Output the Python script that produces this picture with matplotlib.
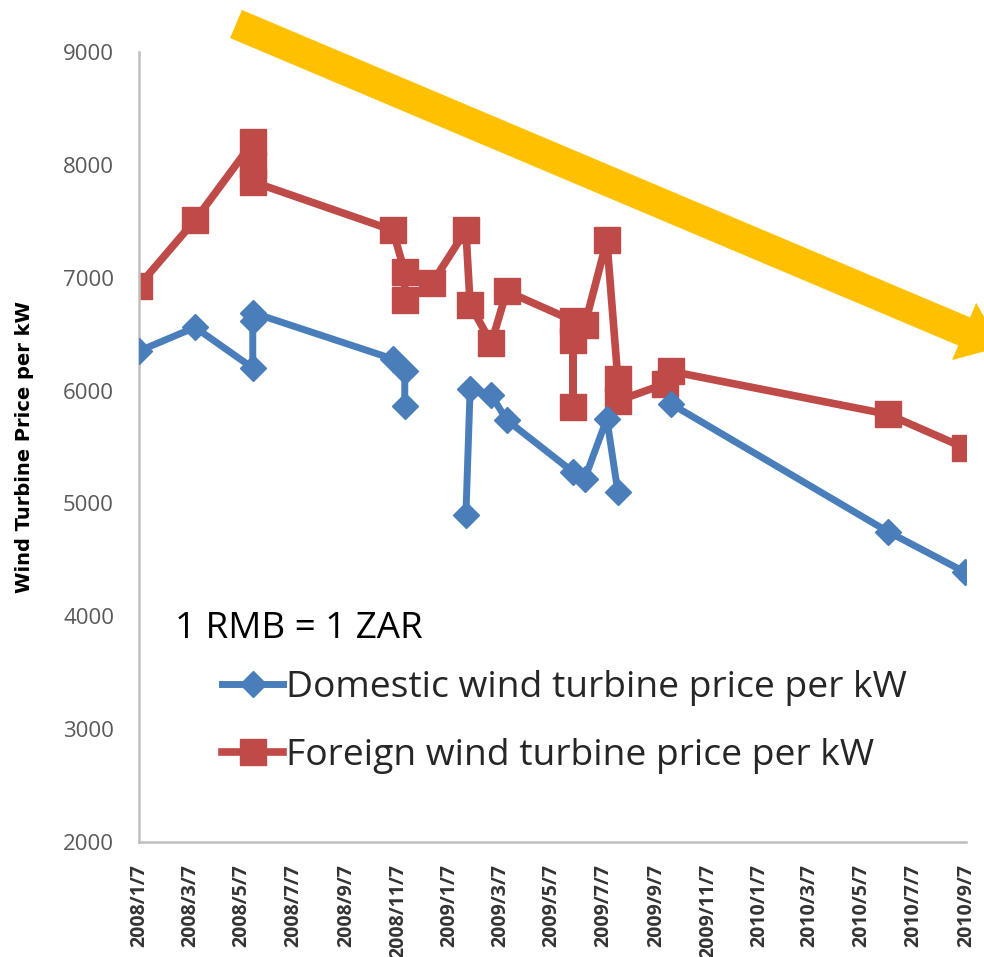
import numpy as np
import pandas as pd
import matplotlib
matplotlib.use('Agg')
import matplotlib.pyplot as plt
from matplotlib.patches import FancyArrowPatch

# Price data (RMB per kW); NaN = gap in the series
foreign_dates = ['2008-01-07', '2008-03-13', '2008-05-20', '2008-05-20', '2008-05-20',
                 '2008-11-01', '2008-11-15', '2008-11-15', '2008-12-17', '2009-01-26',
                 '2009-01-31', '2009-02-25', '2009-03-15', '2009-06-01', '2009-06-01',
                 '2009-06-01', '2009-06-15', '2009-07-11', '2009-07-24', '2009-07-24',
                 '2009-09-18', '2009-09-25', '2010-06-07', '2010-09-06']
foreign_price = [6930, 7510, 8200, 8000, 7850, 7420, 7050, 6800, 6950, 7420,
                 6760, 6420, 6880, 6620, 5850, 6450, 6580, 7330, 6100, 5910,
                 6060, 6170, 5790, 5490]

domestic_dates = ['2008-01-07', '2008-03-13', '2008-05-20', '2008-05-20', '2008-05-20',
                  '2008-11-01', '2008-11-15', '2008-11-15', '2008-12-17', '2009-01-26',
                  '2009-01-31', '2009-02-25', '2009-03-15', '2009-06-01', '2009-06-15',
                  '2009-07-11', '2009-07-24', '2009-09-18', '2009-09-25', '2010-06-07',
                  '2010-09-06']
domestic_price = [6350, 6560, 6200, 6620, 6690, 6280, 6170, 5860, np.nan, 4900,
                  6015, 5960, 5740, 5280, 5220, 5750, 5100, np.nan, 5880, 4750,
                  4390]

tick_dates = ['2008-01-07', '2008-03-07', '2008-05-07', '2008-07-07', '2008-09-07',
              '2008-11-07', '2009-01-07', '2009-03-07', '2009-05-07', '2009-07-07',
              '2009-09-07', '2009-11-07', '2010-01-07', '2010-03-07', '2010-05-07',
              '2010-07-07', '2010-09-07']
tick_labels = ['2008/1/7', '2008/3/7', '2008/5/7', '2008/7/7', '2008/9/7',
               '2008/11/7', '2009/1/7', '2009/3/7', '2009/5/7', '2009/7/7',
               '2009/9/7', '2009/11/7', '2010/1/7', '2010/3/7', '2010/5/7',
               '2010/7/7', '2010/9/7']
y_ticks = [2000, 3000, 4000, 5000, 6000, 7000, 8000, 9000]

BLUE = '#4A7EBB'
RED = '#BE4B48'

W, H = 984, 957
fig = plt.figure(figsize=(W / 100, H / 100), dpi=100)
ax = fig.add_axes([139 / W, 1 - 842 / H, (966 - 139) / W, (842 - 52) / H])

ax.plot(pd.to_datetime(domestic_dates), domestic_price, color=BLUE, lw=5,
        marker='D', ms=13, mec=BLUE, label='Domestic wind turbine price per kW', zorder=3)
ax.plot(pd.to_datetime(foreign_dates), foreign_price, color=RED, lw=5.5,
        marker='s', ms=19, mec=RED, label='Foreign wind turbine price per kW', zorder=2)

ax.set_xlim(pd.Timestamp('2008-01-07'), pd.Timestamp('2010-09-07'))
ax.set_ylim(2000, 9000)
ax.set_xticks(pd.to_datetime(tick_dates))
ax.set_xticklabels(tick_labels, rotation=90, fontsize=14, fontweight='bold',
                   family='Open Sans', color='#333333')
ax.set_yticks(y_ticks)
ax.set_yticklabels([str(v) for v in y_ticks], fontsize=16, family='Open Sans', color='#595959')
ax.tick_params(axis='both', length=0)
ax.tick_params(axis='y', pad=18)
ax.tick_params(axis='x', pad=16)

for side in ['top', 'right']:
    ax.spines[side].set_visible(False)
for side in ['left', 'bottom']:
    ax.spines[side].set_color('#BFBFBF')
    ax.spines[side].set_linewidth(1.8)

ax.set_ylabel('Wind Turbine Price per kW', fontsize=14, fontweight='bold', family='DejaVu Sans')
ax.yaxis.set_label_coords((34 - 139) / 827, 0.5)

fig.text(175 / W, 1 - 638 / H, '1 RMB = 1 ZAR', fontsize=26.5, family='Open Sans',
         color='black', va='baseline')
leg = ax.legend(loc='upper left', bbox_to_anchor=(222 / W, 1 - 670 / H),
                bbox_transform=fig.transFigure, frameon=False,
                prop={'family': 'Open Sans', 'size': 26.8}, handlelength=1.65,
                handletextpad=0.08, borderpad=0, borderaxespad=0, labelspacing=0.87)
for t in leg.get_texts():
    t.set_color('#262626')

# yellow trend arrow across the top of the chart
arrow = FancyArrowPatch(posA=(236 / W, 1 - 24 / H), posB=(1001 / W, 1 - 347 / H),
                        transform=fig.transFigure, shrinkA=0, shrinkB=0,
                        arrowstyle='simple,head_length=%.2f,head_width=%.2f,tail_width=%.2f'
                        % (40 / 1.389, 62 / 1.389, 30.5 / 1.389),
                        mutation_scale=1, color='#FFC000', lw=0)
fig.add_artist(arrow)

plt.savefig('out.png', dpi=100)
